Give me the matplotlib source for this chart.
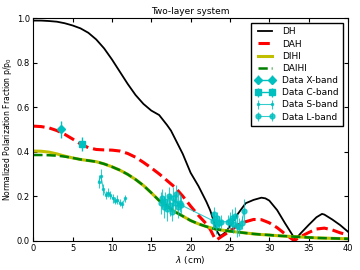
import numpy as np
import matplotlib
matplotlib.use("Agg")
import matplotlib.pyplot as plt

# model curves (lambda in cm)
lam_dh = [0, 1, 2, 3, 4, 5, 6, 7, 8, 9, 10, 11, 12, 13, 14, 15, 16, 17, 17.5, 18, 19, 20, 21, 22,
          22.5, 23, 23.3, 23.7, 24, 24.5, 25, 26, 27, 28, 29, 29.5, 30, 31, 32, 33, 33.3, 34, 35,
          36, 36.7, 37, 38, 39, 40]
p_dh = [0.990, 0.990, 0.988, 0.985, 0.978, 0.968, 0.955, 0.935, 0.905, 0.865, 0.815, 0.76, 0.705,
        0.655, 0.615, 0.585, 0.565, 0.52, 0.495, 0.46, 0.39, 0.305, 0.245, 0.175, 0.135, 0.08,
        0.045, 0.022, 0.025, 0.04, 0.065, 0.12, 0.168, 0.183, 0.193, 0.19, 0.18, 0.137, 0.078,
        0.022, 0.005, 0.033, 0.07, 0.105, 0.12, 0.117, 0.095, 0.07, 0.04]

lam_dah = [0, 1, 2, 3, 4, 5, 6, 7, 8, 9, 10, 11, 12, 13, 14, 15, 16, 17, 18, 19, 20, 21, 22, 22.5,
           23, 23.3, 24, 25, 26, 27, 28, 29, 30, 31, 32, 33, 33.3, 34, 35, 36, 37, 38, 39, 40]
p_dah = [0.515, 0.513, 0.507, 0.495, 0.478, 0.457, 0.435, 0.418, 0.41, 0.408, 0.407, 0.403, 0.392,
         0.375, 0.352, 0.327, 0.3, 0.27, 0.24, 0.2, 0.155, 0.113, 0.075, 0.05, 0.015, 0.003, 0.02,
         0.042, 0.07, 0.085, 0.095, 0.094, 0.08, 0.058, 0.03, 0.004, 0.003, 0.018, 0.036, 0.052,
         0.056, 0.048, 0.035, 0.025]

lam_ihi = list(range(0, 41))
p_dihi = [0.403, 0.402, 0.398, 0.39, 0.38, 0.372, 0.365, 0.36, 0.355, 0.345, 0.332, 0.317, 0.298,
          0.275, 0.248, 0.215, 0.18, 0.155, 0.13, 0.11, 0.09, 0.075, 0.063, 0.053, 0.047, 0.042,
          0.038, 0.034, 0.03, 0.027, 0.025, 0.022, 0.02, 0.018, 0.016, 0.014, 0.012, 0.011, 0.01,
          0.009, 0.008]
p_daihi = [0.385, 0.385, 0.384, 0.382, 0.378, 0.372, 0.365, 0.36, 0.355, 0.345, 0.332, 0.317, 0.298,
           0.275, 0.248, 0.215, 0.18, 0.155, 0.13, 0.11, 0.09, 0.075, 0.063, 0.053, 0.047, 0.042,
           0.038, 0.034, 0.03, 0.027, 0.025, 0.022, 0.02, 0.018, 0.016, 0.014, 0.012, 0.011, 0.01,
           0.009, 0.008]

# observations
lam_x = [3.5]
p_x = [0.50]
err_x = [0.04]

lam_c = [6.2]
p_c = [0.435]
err_c = [0.03]

lam_s = [8.3, 8.6, 8.9, 9.2, 9.5, 9.8, 10.1, 10.4, 10.7, 11.0, 11.3, 11.7]
p_s = [0.265, 0.29, 0.23, 0.205, 0.215, 0.205, 0.19, 0.18, 0.183, 0.17, 0.163, 0.19]
err_s = [0.03, 0.03, 0.025, 0.02, 0.02, 0.02, 0.02, 0.015, 0.02, 0.015, 0.015, 0.015]

lam_l = [16.2, 16.4, 16.6, 16.8, 17.0, 17.2, 17.4, 17.6, 17.8, 18.0, 18.2, 18.4, 18.6, 18.8,
         22.8, 23.0, 23.2, 23.4, 23.6, 23.9, 24.8, 25.0, 25.2, 25.4, 25.6, 25.9, 26.2, 26.5, 26.8]
p_l = [0.17, 0.19, 0.15, 0.18, 0.14, 0.2, 0.16, 0.13, 0.19, 0.17, 0.21, 0.15, 0.17, 0.16,
       0.09, 0.12, 0.07, 0.10, 0.08, 0.085, 0.085, 0.09, 0.10, 0.075, 0.11, 0.065, 0.06, 0.08, 0.135]
err_l = [0.05, 0.04, 0.05, 0.04, 0.05, 0.04, 0.05, 0.04, 0.05, 0.04, 0.04, 0.05, 0.04, 0.04,
         0.04, 0.03, 0.04, 0.03, 0.03, 0.03, 0.03, 0.04, 0.04, 0.04, 0.04, 0.05, 0.04, 0.03, 0.05]

plt.rcParams['font.size'] = 6
plt.rcParams['xtick.direction'] = 'in'
plt.rcParams['ytick.direction'] = 'in'
plt.rcParams['xtick.top'] = True
plt.rcParams['ytick.right'] = True
plt.rcParams['xtick.major.size'] = 3
plt.rcParams['ytick.major.size'] = 3
plt.rcParams['xtick.major.pad'] = 2.5
plt.rcParams['ytick.major.pad'] = 2.5

fig = plt.figure(figsize=(3.6, 2.7), dpi=100)
ax = fig.add_axes([0.0925, 0.109, 0.874, 0.823])

ax.plot(lam_dh, p_dh, 'k-', lw=1.3, label='DH')
ax.plot(lam_dah, p_dah, 'r--', lw=2.2, label='DAH')
ax.plot(lam_ihi, p_dihi, color=(0.75, 0.75, 0), lw=2.2, label='DIHI')
ax.plot(lam_ihi, p_daihi, '--', color=(0, 0.5, 0), lw=1.8, label='DAIHI')

cyan = (0, 0.75, 0.75)
ax.errorbar(lam_x, p_x, yerr=err_x, fmt='D-', color=cyan, ms=4, lw=1, label='Data X-band')
ax.errorbar(lam_c, p_c, yerr=err_c, fmt='s-', color=cyan, ms=4, lw=1, label='Data C-band')
ax.errorbar(lam_s, p_s, yerr=err_s, fmt='.-', color=cyan, ms=3, lw=0.8, alpha=0.8, label='Data S-band')
ax.errorbar(lam_l, p_l, yerr=err_l, fmt='o-', color=cyan, ms=3.5, lw=0.8, alpha=0.8, label='Data L-band')

ax.set_xlim(0, 40)
ax.set_ylim(0, 1)
ax.set_xlabel(r'$\lambda$ (cm)', fontsize=6.5, labelpad=1)
ax.set_ylabel(r'Normalized Polarization Fraction p/p$_0$', fontsize=5.5, labelpad=1.5)
ax.set_title('Two-layer system', fontsize=6.5, pad=3)
ax.legend(loc='upper right', numpoints=2, fancybox=False, framealpha=1, edgecolor='k',
          fontsize=6.5, handlelength=2.2, labelspacing=0.35, borderpad=0.5)

fig.savefig('out.png', dpi=100)
